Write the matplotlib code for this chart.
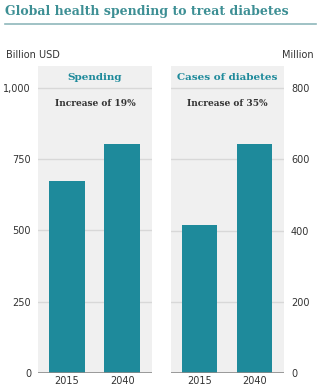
import numpy as np
from matplotlib import pyplot as plt

years = ["2015", "2040"]
spending = [673, 802]
cases = [415, 642]
spend_ticks = [0, 250, 500, 750, 1000]
case_ticks = [0, 200, 400, 600, 800]

TEAL = "#1e8a9b"
TITLE_TEAL = "#3d8f94"
PANEL = "#f0f0f0"
GRID = "#d8d8d8"
TEXT = "#333333"

fig = plt.figure(figsize=(3.22, 3.92), dpi=100)

title = fig.text(5 / 322, 1 - 12 / 392, "Global health spending to treat diabetes",
                 fontsize=11, fontweight="bold", family="DejaVu Serif",
                 color=TITLE_TEAL, va="center", ha="left")
# squeeze the title so it spans the same width as in the original
renderer = fig.canvas.get_renderer()
w = title.get_window_extent(renderer).width
title.set_fontsize(11 * 283 / w)

fig.add_artist(plt.Line2D([5 / 322, 316 / 322], [1 - 24 / 392] * 2,
                          color="#8fb8bb", lw=1.2))
fig.text(6 / 322, 1 - 55 / 392, "Billion USD", fontsize=7, color=TEXT, va="center")
fig.text(314 / 322, 1 - 55 / 392, "Million", fontsize=7, color=TEXT,
         va="center", ha="right")

bottom = (392 - 373) / 392
height = (373 - 66) / 392


def panel(left, right, values, ticks, top, header, note, side):
    ax = fig.add_axes([left / 322, bottom, (right - left) / 322, height])
    ax.set_facecolor(PANEL)
    x = np.arange(len(years))
    ax.bar(x, values, width=0.65, color=TEAL, zorder=3)
    ax.set_xlim(-0.52, 1.54)
    ax.set_ylim(0, top)
    ax.set_yticks(ticks)
    ax.set_yticklabels([f"{t:,}" for t in ticks])
    ax.set_xticks(x)
    ax.set_xticklabels(years)
    for t in ticks[1:]:
        ax.axhline(t, color=GRID, lw=1, zorder=1)
    ax.axhline(0, color="#8a8a8a", lw=1.2, zorder=4)
    for s in ax.spines.values():
        s.set_visible(False)
    ax.tick_params(length=0, labelsize=7, colors=TEXT, pad=2)
    if side == "right":
        ax.yaxis.tick_right()
        ax.tick_params(axis="y", pad=5)
    else:
        ax.tick_params(axis="y", pad=5)
    ax.text(0.5, 1 - 11 / 307, header, transform=ax.transAxes, ha="center",
            va="center", fontsize=7.5, fontweight="bold", family="DejaVu Serif",
            color=TEAL)
    ax.text(0.5, 1 - 37 / 307, note, transform=ax.transAxes, ha="center",
            va="center", fontsize=6.5, fontweight="bold", family="DejaVu Serif",
            color=TEXT)
    return ax


panel(38, 152, spending, spend_ticks, 1077, "Spending", "Increase of 19%", "left")
panel(171, 284, cases, case_ticks, 862, "Cases of diabetes", "Increase of 35%", "right")

fig.savefig("out.png", dpi=100)
